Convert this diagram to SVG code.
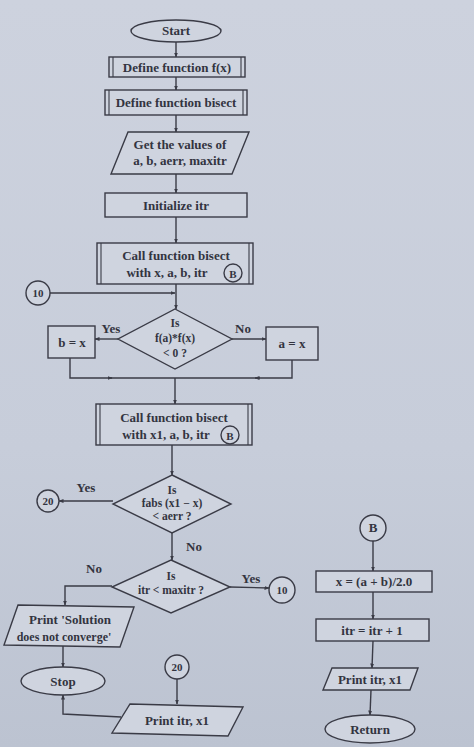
<svg xmlns="http://www.w3.org/2000/svg" width="474" height="747" viewBox="0 0 474 747">
<defs>
<linearGradient id="bg" x1="0" y1="0" x2="0" y2="1">
<stop offset="0" stop-color="#cdd2de"/>
<stop offset="0.6" stop-color="#c7cdda"/>
<stop offset="1" stop-color="#bcc3d1"/>
</linearGradient>
<marker id="ah" viewBox="0 0 10 10" refX="9" refY="5" markerWidth="5" markerHeight="5" orient="auto" markerUnits="userSpaceOnUse">
<path d="M0,1 L10,5 L0,9 z" fill="#3a3b46"/>
</marker>
<style>
.s{fill:#cfd4df;stroke:#3a3b46;stroke-width:1.4}
.d{fill:none;stroke:#3a3b46;stroke-width:1.1}
.c{fill:none;stroke:#3a3b46;stroke-width:1.4}
.ca{fill:none;stroke:#3a3b46;stroke-width:1.4;marker-end:url(#ah)}
text{font-family:"Liberation Serif","DejaVu Serif",serif;font-size:13px;font-weight:bold;fill:#33343f;text-anchor:middle}
.n{font-size:11px}
.m{font-size:11.5px}
</style>
</defs>
<rect x="0" y="0" width="474" height="747" fill="url(#bg)"/>

<g id="connectors">
<line class="ca" x1="176" y1="42" x2="176" y2="57"/>
<line class="ca" x1="176" y1="77" x2="176" y2="90"/>
<line class="ca" x1="176" y1="115" x2="176" y2="132"/>
<line class="ca" x1="176" y1="174" x2="176" y2="193"/>
<line class="ca" x1="176" y1="217" x2="176" y2="243"/>
<line class="ca" x1="176" y1="284" x2="176" y2="309"/>
<line class="ca" x1="50" y1="293" x2="175" y2="293"/>
<line class="ca" x1="118" y1="339" x2="95" y2="339"/>
<line class="ca" x1="232" y1="339" x2="266" y2="339"/>
<polyline class="c" points="70,358 70,378 175,378"/>
<polyline class="c" points="292,360 292,378 175,378"/>
<line class="ca" x1="108" y1="378" x2="112" y2="378"/>
<line class="ca" x1="260" y1="378" x2="255" y2="378"/>
<line class="ca" x1="175" y1="378" x2="175" y2="404"/>
<line class="ca" x1="172" y1="445" x2="172" y2="475"/>
<line class="ca" x1="113" y1="501" x2="59" y2="501"/>
<line class="ca" x1="172" y1="533" x2="172" y2="560"/>
<polyline class="ca" points="112,586 65,586 65,605"/>
<line class="ca" x1="230" y1="587" x2="269" y2="588"/>
<line class="ca" x1="63" y1="646" x2="63" y2="667"/>
<polyline class="ca" points="121,717 63,714 63,695"/>
<line class="ca" x1="177" y1="679" x2="177" y2="704"/>
<line class="ca" x1="373" y1="541" x2="373" y2="571"/>
<line class="ca" x1="373" y1="592" x2="373" y2="619"/>
<line class="ca" x1="373" y1="641" x2="372" y2="668"/>
<line class="ca" x1="371" y1="690" x2="370" y2="715"/>
</g>

<g id="start">
<ellipse class="s" cx="176" cy="31" rx="45" ry="11"/>
<text x="176" y="35">Start</text>
</g>

<g id="define-fx">
<rect class="s" x="109" y="57" width="136" height="20"/>
<line class="d" x1="113" y1="57" x2="113" y2="77"/>
<line class="d" x1="241" y1="57" x2="241" y2="77"/>
<text x="177" y="71.5">Define function f(x)</text>
</g>

<g id="define-bisect">
<rect class="s" x="105" y="90" width="142" height="25"/>
<line class="d" x1="109" y1="90" x2="109" y2="115"/>
<line class="d" x1="243" y1="90" x2="243" y2="115"/>
<text x="176" y="107">Define function bisect</text>
</g>

<g id="get-values">
<polygon class="s" points="128,132 249,132 232,174 111,174"/>
<text x="180" y="149">Get the values of</text>
<text x="180" y="165">a, b, aerr, maxitr</text>
</g>

<g id="init-itr">
<rect class="s" x="105" y="193" width="142" height="24"/>
<text x="176" y="209.5">Initialize itr</text>
</g>

<g id="call-bisect-1">
<rect class="s" x="97" y="243" width="156" height="41"/>
<line class="d" x1="101" y1="243" x2="101" y2="284"/>
<line class="d" x1="249" y1="243" x2="249" y2="284"/>
<text x="176" y="260">Call function bisect</text>
<text x="167" y="277">with x, a, b, itr</text>
<circle class="c" cx="233" cy="273" r="9"/>
<text x="233" y="277.5" class="n">B</text>
</g>

<g id="conn-10-top">
<circle class="s" cx="38" cy="293" r="12"/>
<text x="38" y="297" class="n">10</text>
</g>

<g id="dec-fafx">
<polygon class="s" points="175,309 232,339 175,369 118,339"/>
<text x="175" y="327" class="m">Is</text>
<text x="175" y="342" class="m">f(a)*f(x)</text>
<text x="175" y="357" class="m">&lt; 0 ?</text>
<text x="111" y="333">Yes</text>
<text x="243" y="333">No</text>
</g>

<g id="b-eq-x">
<rect class="s" x="48" y="326" width="47" height="32"/>
<text x="72" y="346.5">b = x</text>
</g>

<g id="a-eq-x">
<rect class="s" x="266" y="327" width="52" height="33"/>
<text x="292" y="347.5">a = x</text>
</g>

<g id="call-bisect-2">
<rect class="s" x="96" y="404" width="156" height="41"/>
<line class="d" x1="100" y1="404" x2="100" y2="445"/>
<line class="d" x1="248" y1="404" x2="248" y2="445"/>
<text x="174" y="422">Call function bisect</text>
<text x="166" y="439">with x1, a, b, itr</text>
<circle class="c" cx="230" cy="435" r="9"/>
<text x="230" y="439.5" class="n">B</text>
</g>

<g id="dec-aerr">
<polygon class="s" points="172,475 231,504 172,533 113,504"/>
<text x="172" y="494" class="m">Is</text>
<text x="172" y="507" class="m">fabs (x1 − x)</text>
<text x="172" y="520" class="m">&lt; aerr ?</text>
<text x="86" y="492">Yes</text>
<text x="194" y="551">No</text>
</g>

<g id="conn-20-left">
<circle class="s" cx="48" cy="501" r="11"/>
<text x="48" y="505" class="n">20</text>
</g>

<g id="dec-maxitr">
<polygon class="s" points="171,560 230,587 171,613 112,587"/>
<text x="171" y="580" class="m">Is</text>
<text x="171" y="594" class="m">itr &lt; maxitr ?</text>
<text x="94" y="573">No</text>
<text x="251" y="583">Yes</text>
</g>

<g id="conn-10-right">
<circle class="s" cx="282" cy="590" r="13"/>
<text x="282" y="594" class="n">10</text>
</g>

<g id="print-noconv">
<polygon class="s" points="18,605 134,607 120,647 4,645"/>
<text x="70" y="624">Print 'Solution</text>
<text x="64" y="641" style="font-size:12px">does not converge'</text>
</g>

<g id="stop">
<ellipse class="s" cx="63" cy="681" rx="42" ry="14"/>
<text x="63" y="685.5">Stop</text>
</g>

<g id="conn-20-bottom">
<circle class="s" cx="177" cy="667" r="12"/>
<text x="177" y="671" class="n">20</text>
</g>

<g id="print-itr-x1">
<polygon class="s" points="130,704 243,707 228,736 112,733"/>
<text x="177" y="724.5">Print itr, x1</text>
</g>

<g id="conn-B">
<circle class="s" cx="373" cy="528" r="13"/>
<text x="373" y="532">B</text>
</g>

<g id="x-mid">
<rect class="s" x="316" y="571" width="116" height="21"/>
<text x="374" y="586">x = (a + b)/2.0</text>
</g>

<g id="itr-inc">
<rect class="s" x="316" y="619" width="113" height="22"/>
<text x="372" y="634.5">itr = itr + 1</text>
</g>

<g id="print-itr-right">
<polygon class="s" points="332,668 418,668 410,690 323,690"/>
<text x="370" y="683.5">Print itr, x1</text>
</g>

<g id="return">
<ellipse class="s" cx="370" cy="729" rx="45" ry="14"/>
<text x="370" y="733.5">Return</text>
</g>
</svg>
